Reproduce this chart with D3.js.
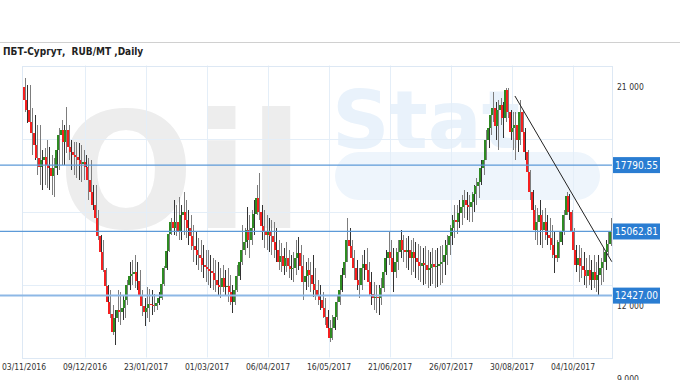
<!DOCTYPE html>
<html>
<head>
<meta charset="utf-8">
<title>ПБТ-Сургут, RUB/MT, Daily</title>
<script src="https://d3js.org/d3.v7.min.js"></script>
<style>
    body { margin: 0; background: #fff; }
    text { font-family: "DejaVu Sans Condensed", "DejaVu Sans", sans-serif; }
    .tick-label { font-size: 8.5px; fill: #333; }
    .title { font-size: 10px; font-weight: bold; fill: #222; white-space: pre; }
    .level-label { font-size: 10px; fill: #fff; }
</style>
</head>
<body>
<div id="chart"></div>
<script>
// x axis: trading-day index of each date label
const dateLabels = ["03/11/2016", "09/12/2016", "23/01/2017", "01/03/2017", "06/04/2017",
                    "16/05/2017", "21/06/2017", "26/07/2017", "30/08/2017", "04/10/2017"];
const dateIndex = [0, 25, 50, 75, 100, 125, 150, 175, 200, 225];

const priceTicks = [21000, 18000, 15000, 12000, 9000];
const levels = [17790.55, 15062.81, 12427.00];
// trend line: [bar index, price]
const trend = [[201.2, 20630], [240.9, 13820]];

const firstOpen = 21000;
const closes = [
    20470, 20050, 19560, 19110, 18620, 18080, 17710, 18000, 18120, 17790,
    17670, 17340, 17670, 18410, 19030, 19230, 18740, 19230, 18530, 18330,
    18210, 18120, 18000, 17840, 17920, 17710, 17180, 16680, 16150, 15620,
    14880, 14220, 13480, 12820, 12160, 11670, 10930, 11510, 11830, 11750,
    11920, 12250, 12860, 13230, 13310, 13400, 13030, 12450, 12000, 11750,
    11920, 12080, 12040, 12000, 12120, 12330, 12900, 13560, 14260, 14960,
    15450, 15200, 15450, 15040, 15740, 15860, 15530, 15200, 14880, 14470,
    14300, 14100, 13970, 13680, 13600, 13520, 13440, 13360, 13070, 12860,
    12780, 13150, 12780, 12820, 12570, 12160, 12660, 13230, 13810, 14300,
    14630, 15120, 14710, 15200, 15780, 16440, 15860, 15290, 15040, 14920,
    15040, 14880, 14630, 14300, 13810, 14050, 13640, 13970, 13640, 13520,
    13560, 13970, 14180, 13640, 12990, 13230, 13480, 13270, 12900, 12660,
    12410, 12250, 11920, 11550, 11090, 10680, 11090, 11550, 12160, 12660,
    13270, 13810, 14710, 14470, 13970, 13560, 13070, 12860, 13560, 13730,
    13480, 12990, 12490, 12330, 12370, 12330, 12740, 13400, 13970, 14220,
    13970, 13400, 13810, 14220, 14710, 14300, 14220, 14300, 13970, 14220,
    13970, 13810, 13640, 13770, 13680, 13480, 13560, 13730, 13600, 13640,
    13730, 13810, 14100, 14510, 14880, 15200, 15530, 15450, 15820, 16070,
    16360, 16150, 16070, 16270, 16600, 16930, 17100, 17670, 18000, 18820,
    19310, 19850, 20140, 19400, 20050, 20260, 19730, 20880, 19970, 19150,
    19310, 19440, 18820, 19970, 19150, 18330, 17510, 16680, 15940, 15120,
    15450, 15740, 15120, 15450, 14920, 14790, 14510, 14100, 13970, 14630,
    15040, 15740, 16520, 15860, 15040, 14300, 13680, 13970, 13640, 13480,
    13230, 13480, 13070, 13400, 13070, 13270, 13560, 13810, 14220, 14550,
    15062.81
];
const highs = [
    21370, 21080, 21080, 20140, 19850, 19440, 19440, 18410, 18490, 18820,
    18530, 18210, 18080, 18620, 19310, 19640, 19440, 20180, 19440, 18820,
    18740, 18740, 18700, 18620, 18410, 18210, 18080, 18000, 16970, 16970,
    15940, 14920, 14710, 13560, 12860, 12660, 12040, 11830, 12660, 12570,
    12410, 12660, 13070, 13810, 13890, 14100, 13810, 13480, 12660, 12330,
    12780, 12700, 12660, 12490, 12330, 12570, 12940, 13640, 14340, 15120,
    15620, 16360, 16150, 16480, 16150, 16680, 16360, 15940, 15740, 15330,
    15040, 14790, 14710, 14510, 14300, 14300, 14100, 13970, 13890, 13810,
    13560, 13680, 13480, 13560, 13270, 12860, 13070, 13680, 14300, 15330,
    15200, 16070, 15740, 15940, 16360, 16970, 17470, 16150, 15940, 15740,
    15620, 15530, 15450, 15200, 14710, 14590, 14380, 14630, 14300, 14100,
    14220, 14710, 14840, 14510, 14100, 13810, 13970, 13810, 14100, 13560,
    13070, 12860, 12570, 12330, 11830, 11420, 11630, 12040, 12450, 12940,
    13560, 14100, 15620, 15200, 14710, 14300, 13890, 13560, 14100, 14300,
    14380, 13810, 13400, 12990, 12860, 12860, 13150, 13810, 14300, 15040,
    14710, 14380, 14380, 14710, 15120, 14920, 14790, 14880, 14710, 14790,
    14630, 14550, 14470, 14380, 14470, 14300, 14220, 14380, 14300, 14380,
    14470, 14510, 14710, 14920, 15330, 15740, 16150, 16150, 16360, 16560,
    16770, 16680, 16560, 16680, 16970, 17260, 17510, 18000, 18410, 19230,
    19730, 20140, 20790, 20380, 20470, 20550, 20380, 20960, 20960, 20050,
    19970, 19970, 19730, 20470, 20050, 19310, 18410, 17590, 16770, 16150,
    16030, 16360, 15940, 16030, 15740, 15620, 15330, 15040, 14710, 15040,
    15530, 15940, 16680, 16600, 15940, 15200, 14510, 14510, 14380, 14220,
    13970, 14100, 13890, 14100, 13810, 14100, 13970, 14380, 14710, 15040,
    15620
];
const lows = [
    19970, 19520, 19110, 18210, 18000, 17380, 16970, 16770, 16970, 16850,
    16770, 16560, 16480, 17380, 17590, 17790, 17790, 18290, 18000, 17590,
    17380, 17260, 17180, 17100, 17180, 17260, 16360, 16230, 15940, 15450,
    14710, 14050, 13400, 12570, 11830, 11510, 10810, 10400, 11340, 11220,
    11420, 11510, 12040, 12660, 12860, 12740, 12660, 12120, 11590, 11180,
    11510, 11340, 11630, 11750, 11830, 12040, 12250, 12820, 13480, 14220,
    14920, 14920, 14880, 14710, 14710, 14920, 14790, 14510, 14300, 13810,
    13680, 13480, 13400, 13150, 12990, 12860, 12740, 12660, 12570, 12450,
    12330, 12570, 12450, 12160, 12040, 11710, 12040, 12570, 13070, 13680,
    14100, 14380, 13970, 14510, 14920, 15740, 15530, 14710, 14380, 14300,
    14220, 14100, 13970, 13810, 13480, 13400, 13270, 13400, 13150, 13070,
    12990, 13270, 13480, 13150, 12250, 12660, 12780, 12570, 12370, 12250,
    12040, 11830, 11510, 11220, 10890, 10520, 10600, 11010, 11420, 12040,
    12570, 13150, 13810, 13970, 13560, 13070, 12660, 12330, 12660, 13070,
    12990, 12450, 12040, 11830, 11710, 11630, 12040, 12570, 13270, 13680,
    13480, 12570, 13150, 13480, 13970, 13810, 13560, 13480, 13270, 13400,
    13150, 13070, 12990, 12860, 12900, 12740, 12820, 12900, 12740, 12780,
    12860, 12940, 13270, 13680, 14100, 14510, 14790, 14960, 15200, 15330,
    15620, 15530, 15450, 15450, 15860, 16150, 16440, 16970, 17380, 18000,
    18490, 19030, 19560, 18820, 18410, 19440, 18900, 19560, 19730, 18820,
    18410, 18000, 18330, 18620, 18820, 18000, 17180, 16360, 15620, 14710,
    14510, 14510, 14380, 14710, 14510, 14300, 13970, 13360, 13810, 13970,
    14510, 14920, 15740, 15530, 14790, 13970, 13400, 12990, 13150, 12860,
    12740, 12860, 12660, 12740, 12570, 12427, 12860, 12990, 13480, 14100,
    14470
];

const width = 680;
const height = 380;

const svg = d3.select("#chart")
    .append("svg")
    .attr("width", width)
    .attr("height", height);

const x = d3.scaleLinear()
    .domain([0, 225])
    .range([24, 573]);

const y = d3.scaleLinear()
    .domain([9000, 21000])
    .range([379, 87]);

// grid lines sit a bit above the value they are labelled with
const gridShift = 21.5;
const plotLeft = 22, plotRight = 612;
const plotTop = y(21000) - gridShift, plotBottom = y(9000) - gridShift;

// header
svg.append("line")
    .attr("x1", 0).attr("x2", width)
    .attr("y1", 42.5).attr("y2", 42.5)
    .style("stroke", "#d0d0d0");

svg.append("text")
    .attr("class", "title")
    .attr("x", 3)
    .attr("y", 55)
    .text("ПБТ-Сургут,  RUB/MT ,Daily");

// watermark
const wm = svg.append("g");
wm.append("rect")
    .attr("x", 335).attr("y", 152)
    .attr("width", 265).attr("height", 48)
    .attr("rx", 24)
    .style("fill", "#eef5fc");
wm.append("text")
    .attr("x", 58).attr("y", 228)
    .style("font-family", "DejaVu Sans")
    .style("font-weight", "bold")
    .style("font-size", "160px")
    .style("fill", "#ededed")
    .text("Oil");
wm.append("text")
    .attr("x", 332).attr("y", 148)
    .style("font-family", "DejaVu Sans")
    .style("font-weight", "bold")
    .style("font-size", "80px")
    .style("fill", "#e9f2fb")
    .text("Stat");

// grid
svg.selectAll(".vgrid")
    .data(dateIndex.slice(1))
    .enter()
    .append("line")
    .attr("x1", d => Math.round(x(d)) + 0.5)
    .attr("x2", d => Math.round(x(d)) + 0.5)
    .attr("y1", plotTop)
    .attr("y2", plotBottom)
    .style("stroke", "#e4eef8");

svg.selectAll(".hgrid")
    .data(priceTicks)
    .enter()
    .append("line")
    .attr("x1", plotLeft)
    .attr("x2", plotRight)
    .attr("y1", d => Math.round(y(d) - gridShift) + 0.5)
    .attr("y2", d => Math.round(y(d) - gridShift) + 0.5)
    .style("stroke", "#e4eef8");

svg.append("rect")
    .attr("x", plotLeft + 0.5).attr("y", Math.round(plotTop) + 0.5)
    .attr("width", plotRight - plotLeft).attr("height", Math.round(plotBottom - plotTop))
    .style("fill", "none")
    .style("stroke", "#dde8f4");

// x labels
svg.selectAll(".xlab")
    .data(dateIndex)
    .enter()
    .append("text")
    .attr("class", "tick-label")
    .attr("x", d => x(d))
    .attr("y", 370)
    .attr("text-anchor", "middle")
    .text((d, i) => dateLabels[i]);

// y labels (those under a level box are hidden, as in the source chart)
const shownTicks = priceTicks.filter(t => levels.every(l => Math.abs(y(l) - y(t)) > 9));
svg.selectAll(".ylab")
    .data(shownTicks)
    .enter()
    .append("text")
    .attr("class", "tick-label")
    .attr("x", 617)
    .attr("y", d => y(d))
    .attr("dy", "0.35em")
    .text(d => d3.format(",")(d).replace(",", " "));

// candles
const candles = closes.map((c, i) => ({
    i: i,
    o: i === 0 ? firstOpen : closes[i - 1],
    h: highs[i],
    l: lows[i],
    c: c
}));

const g = svg.append("g").attr("shape-rendering", "crispEdges");

g.selectAll(".wick")
    .data(candles)
    .enter()
    .append("rect")
    .attr("x", d => Math.round(x(d.i)) + 1)
    .attr("y", d => y(d.h))
    .attr("width", 1)
    .attr("height", d => y(d.l) - y(d.h))
    .style("fill", (d, i) => i % 3 === 1 ? "#333" : "#7d7d7d");

g.selectAll(".body")
    .data(candles)
    .enter()
    .append("rect")
    .attr("x", d => Math.round(x(d.i)) - 1)
    .attr("y", d => y(Math.max(d.o, d.c)))
    .attr("width", 2)
    .attr("height", d => Math.max(1, Math.abs(y(d.o) - y(d.c))))
    .style("fill", d => d.c > d.o ? "#2e8b22" : d.c < d.o ? "#f52020" : "#222");

// level lines with value boxes
svg.selectAll(".level")
    .data(levels)
    .enter()
    .append("line")
    .attr("x1", 0)
    .attr("x2", plotRight)
    .attr("y1", d => y(d))
    .attr("y2", d => y(d))
    .style("stroke", (d, i) => i === 2 ? "#8db8e6" : "#5d9ad8")
    .style("stroke-width", (d, i) => i === 2 ? 2 : 1.3);

svg.selectAll(".level-box")
    .data(levels)
    .enter()
    .append("rect")
    .attr("x", 613)
    .attr("y", d => y(d) - 8)
    .attr("width", 47)
    .attr("height", 16)
    .style("fill", "#2a7dd2");

svg.selectAll(".level-text")
    .data(levels)
    .enter()
    .append("text")
    .attr("class", "level-label")
    .attr("x", 636.5)
    .attr("y", d => y(d))
    .attr("dy", "0.36em")
    .attr("text-anchor", "middle")
    .text(d => d.toFixed(2));

// trend line
svg.append("line")
    .attr("x1", x(trend[0][0]))
    .attr("y1", y(trend[0][1]))
    .attr("x2", x(trend[1][0]))
    .attr("y2", y(trend[1][1]))
    .style("stroke", "#222")
    .style("stroke-width", 1);
</script>
</body>
</html>
